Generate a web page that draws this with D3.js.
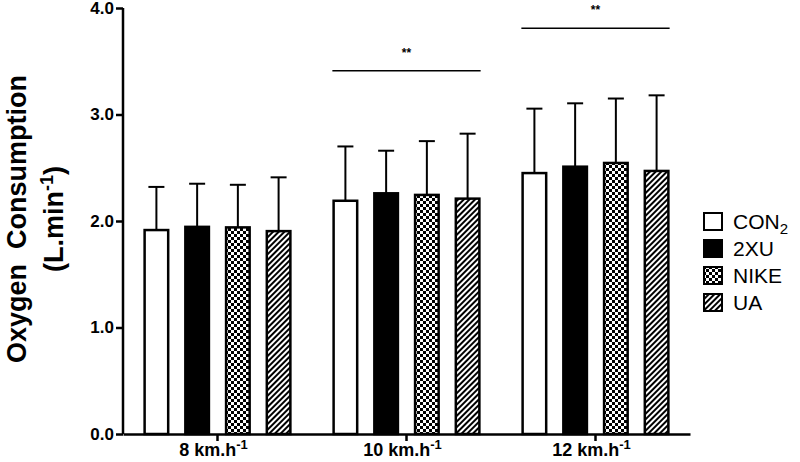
<!DOCTYPE html>
<html><head><meta charset="utf-8">
<script src="https://cdn.jsdelivr.net/npm/d3@7"></script>
<style>body{margin:0;background:#fff;} svg{display:block;} text{font-family:Arial,"Liberation Sans",sans-serif;}</style>
</head><body>
<svg id="c" width="800" height="462"></svg>
<script>
const speeds = ["8", "10", "12"];
const series = ["CON", "2XU", "NIKE", "UA"];
const means = {
  CON:  [1.915, 2.19, 2.45],
  "2XU":[1.945, 2.26, 2.51],
  NIKE: [1.94, 2.245, 2.545],
  UA:   [1.905, 2.21, 2.47]
};
const upper = {
  CON:  [2.32, 2.70, 3.055],
  "2XU":[2.35, 2.66, 3.105],
  NIKE: [2.34, 2.75, 3.15],
  UA:   [2.41, 2.82, 3.18]
};
const yTicks = [0, 1, 2, 3, 4];
const sigs = [{speed: "10", y: 3.41}, {speed: "12", y: 3.81}];

const svg = d3.select("#c");
const defs = svg.append("defs");
const chk = defs.append("pattern").attr("id","chk").attr("patternUnits","userSpaceOnUse")
  .attr("width",6).attr("height",6);
chk.append("rect").attr("width",6).attr("height",6).attr("fill","#fff");
chk.append("rect").attr("x",0).attr("y",0).attr("width",3).attr("height",3).attr("fill","#000");
chk.append("rect").attr("x",3).attr("y",3).attr("width",3).attr("height",3).attr("fill","#000");
const hat = defs.append("pattern").attr("id","hat").attr("patternUnits","userSpaceOnUse")
  .attr("width",4).attr("height",4).attr("patternTransform","rotate(45)");
hat.append("rect").attr("width",4).attr("height",4).attr("fill","#fff");
hat.append("rect").attr("x",0).attr("y",0).attr("width",2).attr("height",4).attr("fill","#000");

const fills = {CON:"#fff", "2XU":"#000", NIKE:"url(#chk)", UA:"url(#hat)"};

const x0 = d3.scaleBand().domain(speeds).range([123, 690]).padding(0);
const x1 = d3.scaleBand().domain(series).range([0, x0.bandwidth()]).paddingInner(0.36).paddingOuter(0.5);
const y = d3.scaleLinear().domain([0, 4]).range([434, 8]);

const data = [];
speeds.forEach((s, i) => series.forEach(k => data.push({s, k, m: means[k][i], u: upper[k][i]})));

const eb = svg.append("g");
data.forEach(d => {
  const cx = x0(d.s) + x1(d.k) + x1.bandwidth()/2;
  eb.append("line").attr("x1",cx).attr("x2",cx).attr("y1",y(d.m)).attr("y2",y(d.u)).attr("stroke","#000").attr("stroke-width",2);
  eb.append("line").attr("x1",cx-8).attr("x2",cx+8).attr("y1",y(d.u)).attr("y2",y(d.u)).attr("stroke","#000").attr("stroke-width",2);
});
svg.append("g").selectAll("rect").data(data).join("rect")
  .attr("x", d => x0(d.s) + x1(d.k) + 1.25)
  .attr("width", x1.bandwidth() - 2.5)
  .attr("y", d => y(d.m))
  .attr("height", d => y(0) - y(d.m))
  .attr("fill", d => fills[d.k])
  .attr("stroke", "#000").attr("stroke-width", 2.5);

const ya = svg.append("g").attr("transform","translate(123,0)")
  .call(d3.axisLeft(y).tickValues(yTicks).tickFormat(d3.format(".1f")).tickSize(7).tickPadding(2));
ya.select(".domain").attr("stroke-width",2.5).attr("d","M0,"+y(4)+"V"+y(0));
ya.selectAll(".tick line").attr("stroke-width",2.5);
ya.selectAll("text").attr("font-size",17).attr("font-weight","bold").attr("fill","#000");

const xa = svg.append("g").attr("transform","translate(0,434)")
  .call(d3.axisBottom(x0).tickSize(7).tickSizeOuter(0).tickFormat(""));
xa.select(".domain").attr("stroke-width",2.5);
xa.selectAll(".tick line").attr("stroke-width",2.5);
speeds.forEach(s => {
  const t = svg.append("text").attr("x", x0(s) + x0.bandwidth()/2 - 4).attr("y", 456)
    .attr("text-anchor","middle").attr("font-size",18).attr("font-weight","bold");
  t.append("tspan").text(s + " km.h");
  t.append("tspan").attr("dy",-7).attr("font-size",13).text("-1");
});

sigs.forEach(g => {
  const a = x0(g.speed) + x1("CON"), b = x0(g.speed) + x1("UA") + x1.bandwidth();
  svg.append("line").attr("x1",a).attr("x2",b).attr("y1",y(g.y)).attr("y2",y(g.y)).attr("stroke","#000").attr("stroke-width",1.5);
  svg.append("text").attr("x",(a+b)/2).attr("y",y(g.y)-14).attr("text-anchor","middle")
    .attr("font-size",12).attr("font-weight","bold").text("**");
});

const yl = svg.append("g").attr("transform","translate(0,219) rotate(-90)");
yl.append("text").attr("x",0).attr("y",26).attr("text-anchor","middle").attr("font-size",27).attr("font-weight","bold")
  .attr("xml:space","preserve").text("Oxygen  Consumption");
const yl2 = yl.append("text").attr("x",0).attr("y",63).attr("text-anchor","middle").attr("font-size",27).attr("font-weight","bold");
yl2.append("tspan").text("(L.min");
yl2.append("tspan").attr("dy",-10).attr("font-size",18).text("-1");
yl2.append("tspan").attr("dy",10).text(")");

const lg = svg.append("g").attr("transform","translate(703,212)");
series.forEach((k, i) => {
  const g = lg.append("g").attr("transform", `translate(0,${i*27})`);
  g.append("rect").attr("x",1).attr("y",1).attr("width",18).attr("height",17).attr("fill",fills[k]).attr("stroke","#000").attr("stroke-width",2);
  const t = g.append("text").attr("x",30).attr("y",17).attr("font-size",21);
  t.append("tspan").text(k);
  if (k === "CON") t.append("tspan").attr("dy",5).attr("font-size",15).text("2");
});
</script>
</body></html>
